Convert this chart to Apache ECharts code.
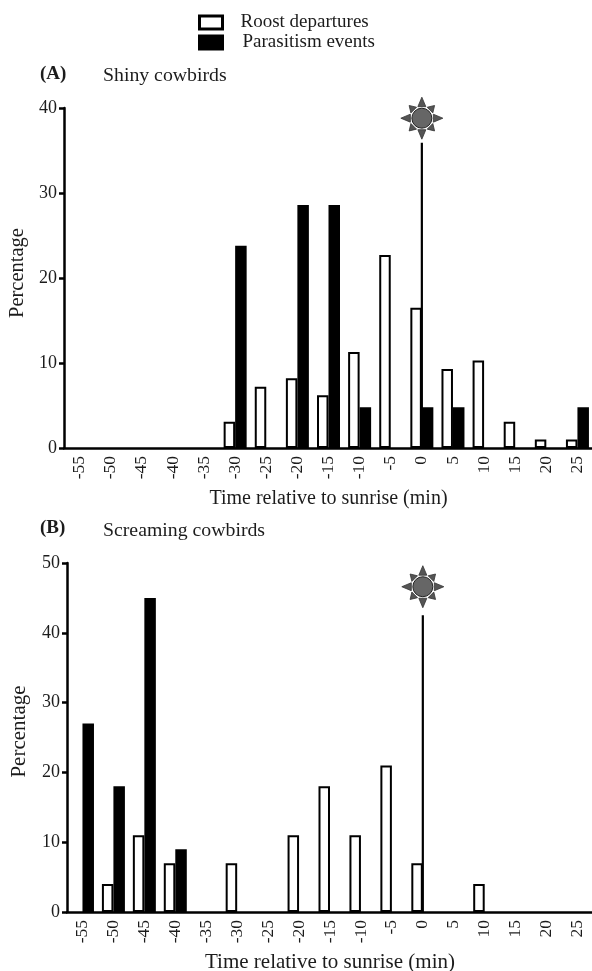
<!DOCTYPE html>
<html><head><meta charset="utf-8">
<style>html,body{margin:0;padding:0;background:#fff}#c{width:592px;height:971px}</style>
<script src="https://cdn.jsdelivr.net/npm/echarts@6/dist/echarts.min.js"></script>
</head><body><div id="c"></div>
<script>
const categories=['-55','-50','-45','-40','-35','-30','-25','-20','-15','-10','-5','0','5','10','15','20','25'];
const shinyRoost=[null,null,null,null,null,3.1,7.2,8.2,6.2,11.3,22.7,16.5,9.3,10.3,3.1,1,1];
const shinyParasitism=[null,null,null,null,null,23.8,null,28.6,28.6,4.8,null,4.8,4.8,null,null,null,4.8];
const screamingRoost=[null,4,11,7,null,7,null,11,18,11,21,7,null,4,null,null,null];
const screamingParasitism=[27,18,45,9,null,null,null,null,null,null,null,null,null,null,null,null,null];
const shinySunLine=35.9, shinySunCentre=38.8;
const screamingSunLine=42.5, screamingSunCentre=46.6;
const serif='"Liberation Serif","Times New Roman",serif';
const ink='#1c1c1c';

function xAxis(i,size,gap){return {type:'category',gridIndex:i,data:categories,
  axisLine:{lineStyle:{color:'#000',width:2.5}},axisTick:{alignWithLabel:true,length:6,lineStyle:{color:'#000',width:2.5}},
  axisLabel:{rotate:90,interval:0,fontFamily:serif,fontSize:17.5,color:ink,margin:8},
  name:'Time relative to sunrise (min)',nameLocation:'middle',nameGap:gap,
  nameTextStyle:{fontFamily:serif,fontSize:size,color:ink}};}
function yAxis(i,max,gap,size,pad){return {type:'value',gridIndex:i,min:0,max:max,interval:10,splitLine:{show:false},
  axisLine:{show:true,lineStyle:{color:'#000',width:2.5}},axisTick:{show:true,length:5,lineStyle:{color:'#000',width:2.5}},
  axisLabel:{fontFamily:serif,fontSize:18,color:ink,margin:7},
  name:'Percentage',nameLocation:'middle',nameGap:gap,nameTextStyle:{fontFamily:serif,fontSize:size,color:ink,padding:[0,0,0,pad]}};}
function bars(name,i,data,fill){return {name:name,type:'bar',xAxisIndex:i,yAxisIndex:i,data:data,barWidth:11.5,barGap:0,
  itemStyle:{color:fill,borderColor:'#000',borderWidth:2},silent:true,z:3};}
function sun(i,lineTop,centre){return {type:'custom',xAxisIndex:i,yAxisIndex:i,silent:true,z:4,clip:false,
  data:[[ '0',lineTop,centre ]],encode:{x:0,y:1},
  renderItem(p,api){
    const base=api.coord([api.value(0),0]), top=api.coord([api.value(0),lineTop]), c=api.coord([api.value(0),centre]);
    const kids=[{type:'line',shape:{x1:base[0],y1:base[1],x2:top[0],y2:top[1]},style:{stroke:'#000',lineWidth:2.2}}];
    for(let k=0;k<8;k++){
      const a=k*Math.PI/4, r1=11.5, r2=k%2?18:21, w=4;
      const ux=Math.cos(a),uy=Math.sin(a);
      kids.push({type:'polygon',shape:{points:[[c[0]+ux*r2,c[1]+uy*r2],[c[0]+ux*r1-uy*w,c[1]+uy*r1+ux*w],[c[0]+ux*r1+uy*w,c[1]+uy*r1-ux*w]]},
        style:{fill:'#555',stroke:'#333',lineWidth:0.8}});
    }
    kids.push({type:'circle',shape:{cx:c[0],cy:c[1],r:10},style:{fill:'#666',stroke:'#222',lineWidth:1}});
    return {type:'group',children:kids};
  }};}

const chart=echarts.init(document.getElementById('c'),null,{renderer:'canvas'});
chart.setOption({
  animation:false,backgroundColor:'#fff',
  grid:[{left:64,top:108,width:529,height:340,outerBoundsMode:'none'},{left:67,top:563,width:526,height:349,outerBoundsMode:'none'}],
  xAxis:[xAxis(0,20,41),xAxis(1,21,40)],
  yAxis:[yAxis(0,40,34,20.5,10),yAxis(1,50,37,21,12)],
  legend:{left:198,top:13,padding:0,orient:'vertical',itemWidth:23,itemHeight:13,itemGap:1,selectedMode:false,
    data:[
      {name:'Roost departures',icon:'rect',itemStyle:{borderWidth:3},textStyle:{padding:[0,0,0,13]}},
      {name:'Parasitism events',icon:'rect',itemStyle:{borderWidth:3},textStyle:{padding:[0,0,0,15]}}
    ],
    textStyle:{fontFamily:serif,fontSize:19,color:ink}},
  series:[
    bars('Roost departures',0,shinyRoost,'#fff'),
    bars('Parasitism events',0,shinyParasitism,'#000'),
    bars('Roost departures',1,screamingRoost,'#fff'),
    bars('Parasitism events',1,screamingParasitism,'#000'),
    sun(0,shinySunLine,shinySunCentre),
    sun(1,screamingSunLine,screamingSunCentre)
  ],
  graphic:[
    {type:'text',left:40,top:65,style:{text:'(A)',font:'bold 19px '+serif,fill:ink}},
    {type:'text',left:103,top:66,style:{text:'Shiny cowbirds',font:'19.8px '+serif,fill:ink}},
    {type:'text',left:40,top:519,style:{text:'(B)',font:'bold 19px '+serif,fill:ink}},
    {type:'text',left:103,top:521,style:{text:'Screaming cowbirds',font:'19.8px '+serif,fill:ink}}
  ]
});
</script></body></html>
